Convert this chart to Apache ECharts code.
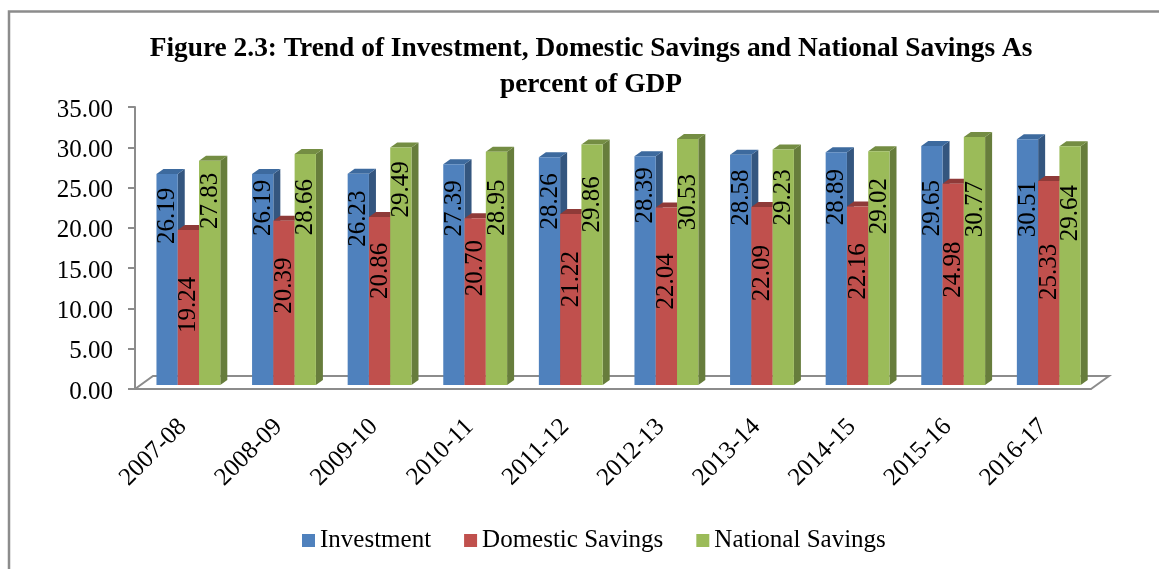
<!DOCTYPE html>
<html>
<head>
<meta charset="utf-8">
<style>
  html, body { margin: 0; padding: 0; background: #fff; }
  #main { width: 1159px; height: 569px; }
</style>
<script src="https://cdn.jsdelivr.net/npm/echarts@6/dist/echarts.min.js"></script>
</head>
<body>
<div id="main"></div>
<script>
const years = ["2007-08", "2008-09", "2009-10", "2010-11", "2011-12", "2012-13", "2013-14", "2014-15", "2015-16", "2016-17"];
const investment = [26.19, 26.19, 26.23, 27.39, 28.26, 28.39, 28.58, 28.89, 29.65, 30.51];
const domesticSavings = [19.24, 20.39, 20.86, 20.70, 21.22, 22.04, 22.09, 22.16, 24.98, 25.33];
const nationalSavings = [27.83, 28.66, 29.49, 28.95, 29.86, 30.53, 29.23, 29.02, 30.77, 29.64];

// how far each hand-placed label sits below the top of its bar, px
const investmentDrop = [42, 34, 45, 44, 44, 39, 43, 45, 62, 70];
const domesticDrop = [75, 65, 54, 50, 65, 74, 66, 65, 86, 91];
const nationalDrop = [40, 53, 42, 56, 60, 63, 48, 55, 72, 67];

const FONT = '"Liberation Serif", "Times New Roman", serif';
const AXIS_GREY = "#8c8c8c";
const DEPTH_X = 7;
const DEPTH_Y = 5;
const BASE_LIFT = 4; // bars stand on the floor, a little above the front axis line

function bar3d(slot, face, top, side, drops) {
  return function (params, api) {
    const band = api.size([1, 0])[0];
    const w = band * 0.2226;
    const c = api.coord([api.value(0), api.value(1)]);
    const z = api.coord([api.value(0), 0]);
    const x = c[0] - band * 0.2755 + slot * w;
    const y0 = z[1] - BASE_LIFT;
    const y1 = c[1] - BASE_LIFT;
    return {
      type: "group",
      children: [
        { type: "polygon", shape: { points: [[x + w, y0], [x + w + DEPTH_X, y0 - DEPTH_Y], [x + w + DEPTH_X, y1 - DEPTH_Y], [x + w, y1]] }, style: { fill: side } },
        { type: "polygon", shape: { points: [[x, y1], [x + DEPTH_X, y1 - DEPTH_Y], [x + w + DEPTH_X, y1 - DEPTH_Y], [x + w, y1]] }, style: { fill: top } },
        { type: "rect", shape: { x: x, y: y1, width: w, height: y0 - y1 }, style: { fill: face } },
        {
          type: "text",
          x: x + w / 2 + 0.5,
          y: y1 + drops[params.dataIndex],
          rotation: Math.PI / 2,
          style: { text: api.value(1).toFixed(2), fill: "#000", font: "25px " + FONT, align: "center", verticalAlign: "middle" }
        }
      ]
    };
  };
}

function floor(params, api) {
  const g = params.coordSys;
  const bottom = g.y + g.height;
  const back = bottom - 13;
  const lineStyle = { stroke: AXIS_GREY, lineWidth: 2, fill: null };
  return {
    type: "polyline",
    shape: { points: [[g.x, bottom], [g.x + 18, back], [g.x + g.width + 18, back], [g.x + g.width, bottom]] },
    style: lineStyle
  };
}

function toPoints(values) {
  return values.map(function (v, i) { return [i, v]; });
}

const myChart = echarts.init(document.getElementById("main"));
myChart.setOption({
  animation: false,
  backgroundColor: "#fff",
  title: {
    text: "Figure 2.3: Trend of Investment, Domestic Savings and National Savings As\npercent of GDP",
    left: 586,
    top: 26,
    textAlign: "center",
    textStyle: { fontFamily: FONT, fontSize: 27.4, fontWeight: "bold", color: "#000", lineHeight: 36 }
  },
  legend: {
    data: ["Investment", "Domestic Savings", "National Savings"],
    left: 297,
    top: 523,
    icon: "rect",
    itemWidth: 13,
    itemHeight: 13,
    itemGap: 33,
    textStyle: { fontFamily: FONT, fontSize: 25, color: "#000" }
  },
  grid: { left: 135, right: 68, top: 107, bottom: 180 },
  xAxis: {
    type: "category",
    data: years,
    axisLine: { lineStyle: { color: AXIS_GREY, width: 2 } },
    axisTick: { length: 7, lineStyle: { color: AXIS_GREY, width: 2 } },
    axisLabel: { interval: 0, rotate: 45, margin: 34, fontFamily: FONT, fontSize: 25, color: "#000" }
  },
  yAxis: {
    type: "value",
    min: 0,
    max: 35,
    interval: 5,
    splitLine: { show: false },
    axisLine: { show: true, lineStyle: { color: AXIS_GREY, width: 2 } },
    axisTick: { show: true, length: 7, lineStyle: { color: AXIS_GREY, width: 2 } },
    axisLabel: { margin: 22, verticalAlign: "top", lineHeight: 6, fontFamily: FONT, fontSize: 25, color: "#000", formatter: function (v) { return v.toFixed(2); } }
  },
  series: [
    { type: "custom", name: "floor", z: 1, silent: true, data: [[0, 0]], renderItem: floor },
    {
      type: "custom", name: "Investment", z: 2, data: toPoints(investment),
      itemStyle: { color: "#4f81bd" },
      renderItem: bar3d(0, "#4f81bd", "#3d6a9e", "#34567f", investmentDrop)
    },
    {
      type: "custom", name: "Domestic Savings", z: 3, data: toPoints(domesticSavings),
      itemStyle: { color: "#c0504d" },
      renderItem: bar3d(1, "#c0504d", "#8f3a38", "#8f3a38", domesticDrop)
    },
    {
      type: "custom", name: "National Savings", z: 4, data: toPoints(nationalSavings),
      itemStyle: { color: "#9bbb59" },
      renderItem: bar3d(2, "#9bbb59", "#748d43", "#677d3c", nationalDrop)
    }
  ],
  graphic: [
    { type: "polyline", silent: true, shape: { points: [[9, 569], [9, 11.5], [1159, 11.5]] }, style: { stroke: AXIS_GREY, lineWidth: 2.5, fill: null } }
  ]
});
</script>
</body>
</html>
